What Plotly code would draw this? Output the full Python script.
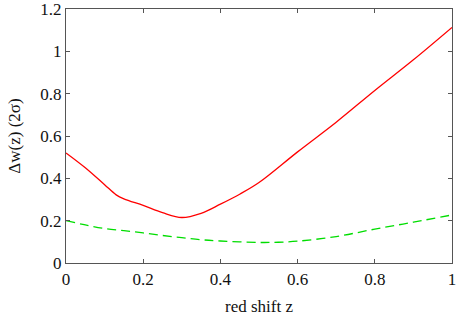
import plotly.graph_objects as go

z_red = [0, 0.05, 0.1, 0.13, 0.15, 0.2, 0.25, 0.3, 0.35, 0.4, 0.45, 0.5, 0.6, 0.7, 0.8, 0.9, 1.0]
dw_red = [0.52, 0.45, 0.37, 0.322, 0.303, 0.272, 0.238, 0.215, 0.235, 0.278, 0.325, 0.38, 0.525, 0.665, 0.815, 0.96, 1.113]

z_green = [0, 0.05, 0.1, 0.15, 0.2, 0.25, 0.3, 0.35, 0.4, 0.5, 0.55, 0.6, 0.7, 0.8, 0.9, 1.0]
dw_green = [0.20, 0.18, 0.163, 0.153, 0.142, 0.13, 0.12, 0.11, 0.104, 0.097, 0.098, 0.103, 0.125, 0.16, 0.193, 0.227]

x_ticks = [0, 0.2, 0.4, 0.6, 0.8, 1]
x_tick_labels = ["0", "0.2", "0.4", "0.6", "0.8", "1"]
y_ticks = [0, 0.2, 0.4, 0.6, 0.8, 1, 1.2]
y_tick_labels = ["0", "0.2", "0.4", "0.6", "0.8", "1", "1.2"]

SERIF = "Liberation Serif"

fig = go.Figure()
fig.add_trace(go.Scatter(x=z_red, y=dw_red, mode="lines",
                         line=dict(color="#ff0000", width=1.3, shape="spline", smoothing=1.0)))
fig.add_trace(go.Scatter(x=z_green, y=dw_green, mode="lines",
                         line=dict(color="#00dd00", width=1.3, dash="9px,5px", shape="spline", smoothing=1.0)))

axis_common = dict(showgrid=False, zeroline=False, showline=True, linecolor="#555555",
                   linewidth=1.2, mirror="ticks", ticks="inside", ticklen=4,
                   tickcolor="#555555", tickwidth=1, automargin=False,
                   ticklabeloverflow="allow",
                   tickfont=dict(family=SERIF, size=17, color="#111111"))

fig.update_layout(
    width=461, height=319,
    margin=dict(l=66, r=9, t=9, b=56, autoexpand=False),
    paper_bgcolor="white", plot_bgcolor="white",
    showlegend=False,
    font=dict(family=SERIF, size=17, color="#111111"),
    xaxis=dict(range=[-0.00001, 1.00001], tickvals=x_ticks, ticktext=x_tick_labels,
               title=dict(text="red shift z", standoff=12, font=dict(family=SERIF, size=17)),
               **axis_common),
    yaxis=dict(range=[-0.00001, 1.20001], tickvals=y_ticks, ticktext=y_tick_labels,
               title=dict(text="Δw(z) (2σ)", standoff=15, font=dict(family=SERIF, size=17)),
               **axis_common),
)

fig.write_html("out.html", config={"displayModeBar": False},
               post_script="document.body.style.margin='0';document.body.style.overflow='hidden';")
